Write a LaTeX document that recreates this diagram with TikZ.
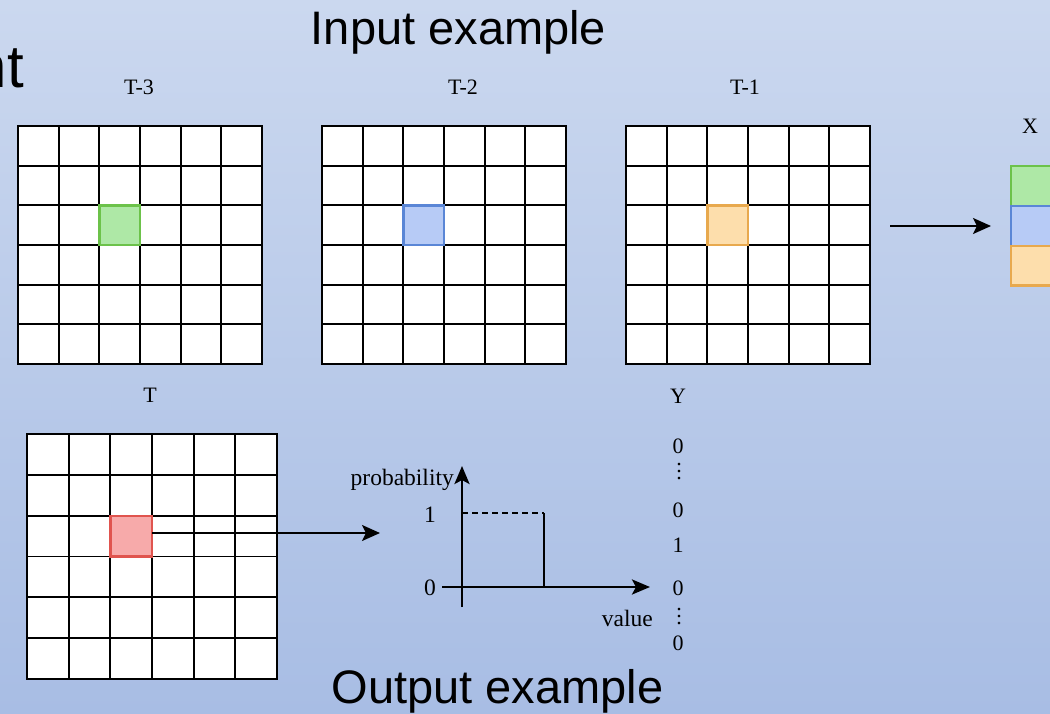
\documentclass[tikz,border=0pt]{standalone}
\usepackage{fontspec}
\setmainfont{Liberation Serif}
\newfontfamily\sansf{Liberation Sans}
\usetikzlibrary{calc,arrows.meta}
\definecolor{bgtop}{RGB}{203,216,239}
\definecolor{bgbot}{RGB}{168,189,228}
\definecolor{gfill}{RGB}{174,232,166}
\definecolor{gdraw}{RGB}{108,194,74}
\definecolor{bfill}{RGB}{183,203,246}
\definecolor{bdraw}{RGB}{90,134,214}
\definecolor{ofill}{RGB}{253,222,172}
\definecolor{odraw}{RGB}{232,169,78}
\definecolor{rfill}{RGB}{247,170,170}
\definecolor{rdraw}{RGB}{224,84,78}
\newcommand\myvdots{\vbox{\baselineskip7pt\lineskiplimit0pt\hbox{.}\hbox{.}\hbox{.}}}
\newcommand\pgrid[5]{%
  \node[gridbox, minimum width=#4pt, minimum height=#5pt] (#1) at (#2,#3) {};
  \foreach \k in {1,...,5}{%
    \draw[gridline] ($(#1.north west)!\k/6!(#1.north east)$) -- ($(#1.south west)!\k/6!(#1.south east)$);
    \draw[gridline] ($(#1.north west)!\k/6!(#1.south west)$) -- ($(#1.north east)!\k/6!(#1.south east)$);
  }%
  \draw[gridborder] (#1.north west) rectangle (#1.south east);
}
\begin{document}
\begin{tikzpicture}[x=1pt,y=-1pt,
  gridbox/.style={fill=white, draw=none, inner sep=0pt, outer sep=0pt},
  gridline/.style={black, line width=1.8pt},
  gridborder/.style={black, line width=2.1pt},
  hcell/.style={line width=2.4pt, inner sep=0pt, outer sep=0pt},
  lab/.style={font=\fontsize{22}{26}\selectfont, inner sep=0pt, anchor=base},
  plab/.style={font=\fontsize{23.5}{28}\selectfont, inner sep=0pt, anchor=base},
  big/.style={font=\sansf\fontsize{47}{56}\selectfont, inner sep=0pt, anchor=base},
  arr/.style={line width=2.1pt, -{Stealth[length=18pt,width=16pt,inset=4pt]}},
  axis/.style={line width=2.8pt, -{Stealth[length=18pt,width=15pt,inset=4pt]}},
]
\useasboundingbox (0,0) rectangle (1050,714);
\shade[top color=bgtop, bottom color=bgbot] (0,0) rectangle (1050,714);

% titles
\node[font=\sansf\fontsize{60}{70}\selectfont, inner sep=0pt, anchor=base east] (ttl) at (24,88) {nt};
\node[big] (tin) at (458.5,45) {Input example};
\node[big] (tout) at (497.5,703) {Output example};

% input grids
\pgrid{g3}{140}{245}{244}{238}
\pgrid{g2}{444}{245}{244}{238}
\pgrid{g1}{748}{245}{244}{238}
\node[hcell, fill=gfill, draw=gdraw, minimum width=40.7pt, minimum height=39.7pt] (c3) at ($(g3.north west)+(101.7,99.2)$) {};
\node[hcell, fill=bfill, draw=bdraw, minimum width=40.7pt, minimum height=39.7pt] (c2) at ($(g2.north west)+(101.7,99.2)$) {};
\node[hcell, fill=ofill, draw=odraw, minimum width=40.7pt, minimum height=39.7pt] (c1) at ($(g1.north west)+(101.7,99.2)$) {};
\node[lab] (l3) at (139,95) {T-3};
\node[lab] (l2) at (463,95) {T-2};
\node[lab] (l1) at (745,95) {T-1};

% X column
\node[lab] (lx) at (1030,134) {X};
\node[hcell, fill=gfill, draw=gdraw, minimum width=40pt, minimum height=40pt] (xg) at (1031,186) {};
\node[hcell, fill=bfill, draw=bdraw, minimum width=40pt, minimum height=40pt] (xb) at (1031,226) {};
\node[hcell, fill=ofill, draw=odraw, minimum width=40pt, minimum height=39.5pt] (xo) at (1031,265.7) {};
\draw[arr, shorten <=20pt, shorten >=20pt] (g1.east |- xb.west) -- (xb.west);

% output grid
\node[lab] (lt) at (150,402) {T};
\pgrid{gt}{152}{556.5}{250}{245}
\node[hcell, fill=rfill, draw=rdraw, minimum width=41.7pt, minimum height=40.8pt] (cr) at ($(gt.north west)+(104.2,102.1)$) {};
\coordinate (pa) at (380,533);
\draw[arr] (cr.east |- pa) -- (pa);

% plot
\coordinate (ytop) at (462,466);
\coordinate (ybot) at (462,607);
\coordinate (xl) at (442,587);
\coordinate (xr) at (650,587);
\coordinate (d1) at (462,513);
\coordinate (d2) at (544,513);
\coordinate (d3) at (544,587);
\draw[axis] (ybot) -- (ytop);
\draw[axis] (xl) -- (xr);
\draw[line width=2.2pt, dash pattern=on 6pt off 4pt] (d1) -- (d2);
\draw[line width=1.6pt] (d2) -- (d3);
\node[plab, anchor=base east] (lp) at (454,485) {probability};
\node[plab] (l1v) at (430,522) {1};
\node[plab] (l0v) at (430,595) {0};
\node[plab, anchor=base east] (lv) at (653,626) {value};

% Y column
\node[lab] (ly) at (678,403) {Y};
\node[lab] (y1) at (678,453) {0};
\node[inner sep=0pt, font=\fontsize{22}{26}\selectfont] (y2) at (679,472) {\myvdots};
\node[lab] (y3) at (678,517) {0};
\node[lab] (y4) at (678,552) {1};
\node[lab] (y5) at (678,595) {0};
\node[inner sep=0pt, font=\fontsize{22}{26}\selectfont] (y6) at (679,617) {\myvdots};
\node[lab] (y7) at (678,650) {0};
\end{tikzpicture}
\end{document}
